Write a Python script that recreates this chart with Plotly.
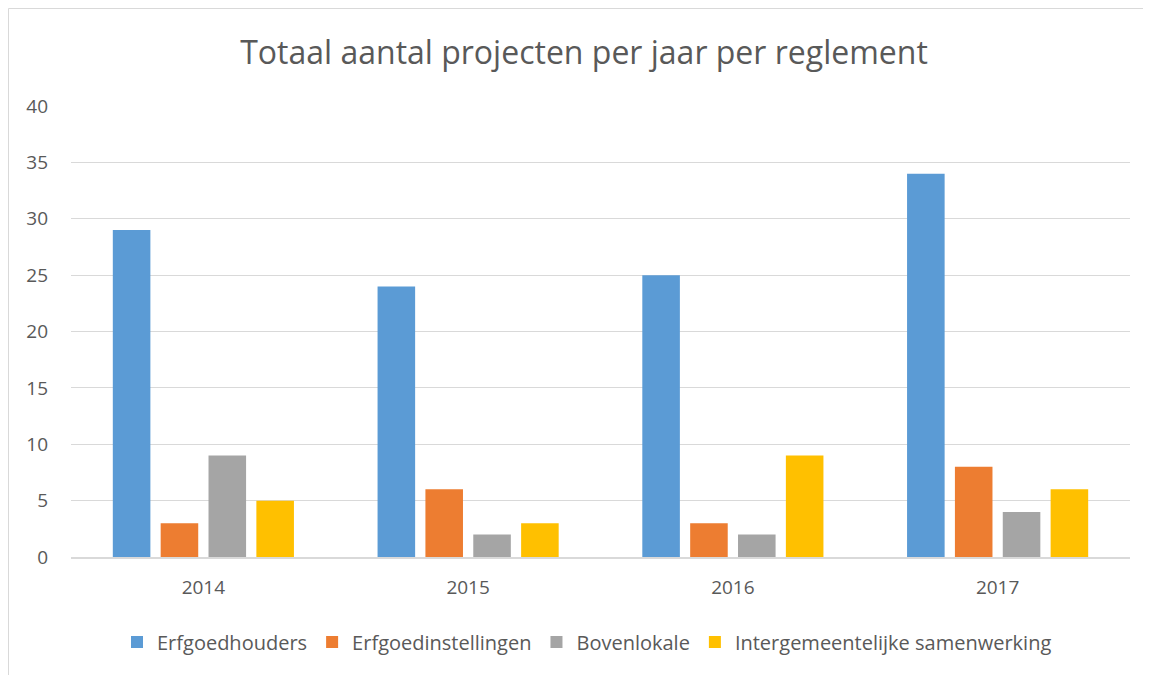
import plotly.graph_objects as go

years = ["2014", "2015", "2016", "2017"]
series_names = ["Erfgoedhouders", "Erfgoedinstellingen", "Bovenlokale", "Intergemeentelijke samenwerking"]
erfgoedhouders = [29, 24, 25, 34]
erfgoedinstellingen = [3, 6, 3, 8]
bovenlokale = [9, 2, 2, 4]
intergemeentelijk = [5, 3, 9, 6]
colors = ["#5B9BD5", "#ED7D31", "#A5A5A5", "#FFC000"]
y_ticks = [0, 5, 10, 15, 20, 25, 30, 35, 40]

fig = go.Figure()
for name, vals, col in zip(series_names,
                           [erfgoedhouders, erfgoedinstellingen, bovenlokale, intergemeentelijk],
                           colors):
    fig.add_trace(go.Bar(x=years, y=vals, name=name, marker=dict(color=col, line=dict(width=0))))

# page body has an 8px margin; work in screen pixels and convert
OFF = 8
SW, SH = 1151, 675
W, H = SW - OFF, SH - OFF
plot_l, plot_r, plot_t, plot_b = 71, 1130, 106, 557   # screen pixels
L = plot_l - OFF
T = plot_t - OFF
R = W - (plot_r - OFF)
B = H - (plot_b - OFF)
pw = plot_r - plot_l
ph = plot_b - plot_t

def px_x(p):
    return (p - plot_l) / pw

def px_y(p):
    return (plot_b - p) / ph

border_col = "#D9D9D9"
fig.add_shape(type="line", xref="paper", yref="paper",
              x0=px_x(8.5), x1=px_x(SW + 5), y0=px_y(8.5), y1=px_y(8.5),
              line=dict(color=border_col, width=1))
fig.add_shape(type="line", xref="paper", yref="paper",
              x0=px_x(8.5), x1=px_x(8.5), y0=px_y(8.5), y1=px_y(SH + 5),
              line=dict(color=border_col, width=1))

fig.update_layout(
    width=W, height=H,
    margin=dict(l=L, r=R, t=T, b=B),
    paper_bgcolor="white", plot_bgcolor="white",
    barmode="group", bargap=0.277, bargroupgap=0.215,
    font=dict(family="Open Sans", color="#595959"),
    title=dict(text="Totaal aantal projecten per jaar per reglement",
               x=px_x(584), xanchor="center", xref="paper",
               y=1 - (53 - OFF) / H, yanchor="middle",
               font=dict(size=32, color="#595959", family="Open Sans")),
    legend=dict(orientation="h", x=px_x(587), xanchor="center", y=px_y(642), yanchor="middle",
                font=dict(size=20, color="#595959"), itemwidth=30,
                traceorder="normal"),
    xaxis=dict(showgrid=False, showline=True, linecolor=border_col, linewidth=1.5,
               tickfont=dict(size=19, color="#595959"), ticks="", ticklabelstandoff=12),
    yaxis=dict(range=[0, 40], tickvals=y_ticks, showgrid=True, gridcolor=border_col,
               gridwidth=1, zeroline=False, showline=False,
               tickfont=dict(size=19, color="#595959"), ticks="", ticklabelstandoff=22),
)

fig.write_html("out.html")
